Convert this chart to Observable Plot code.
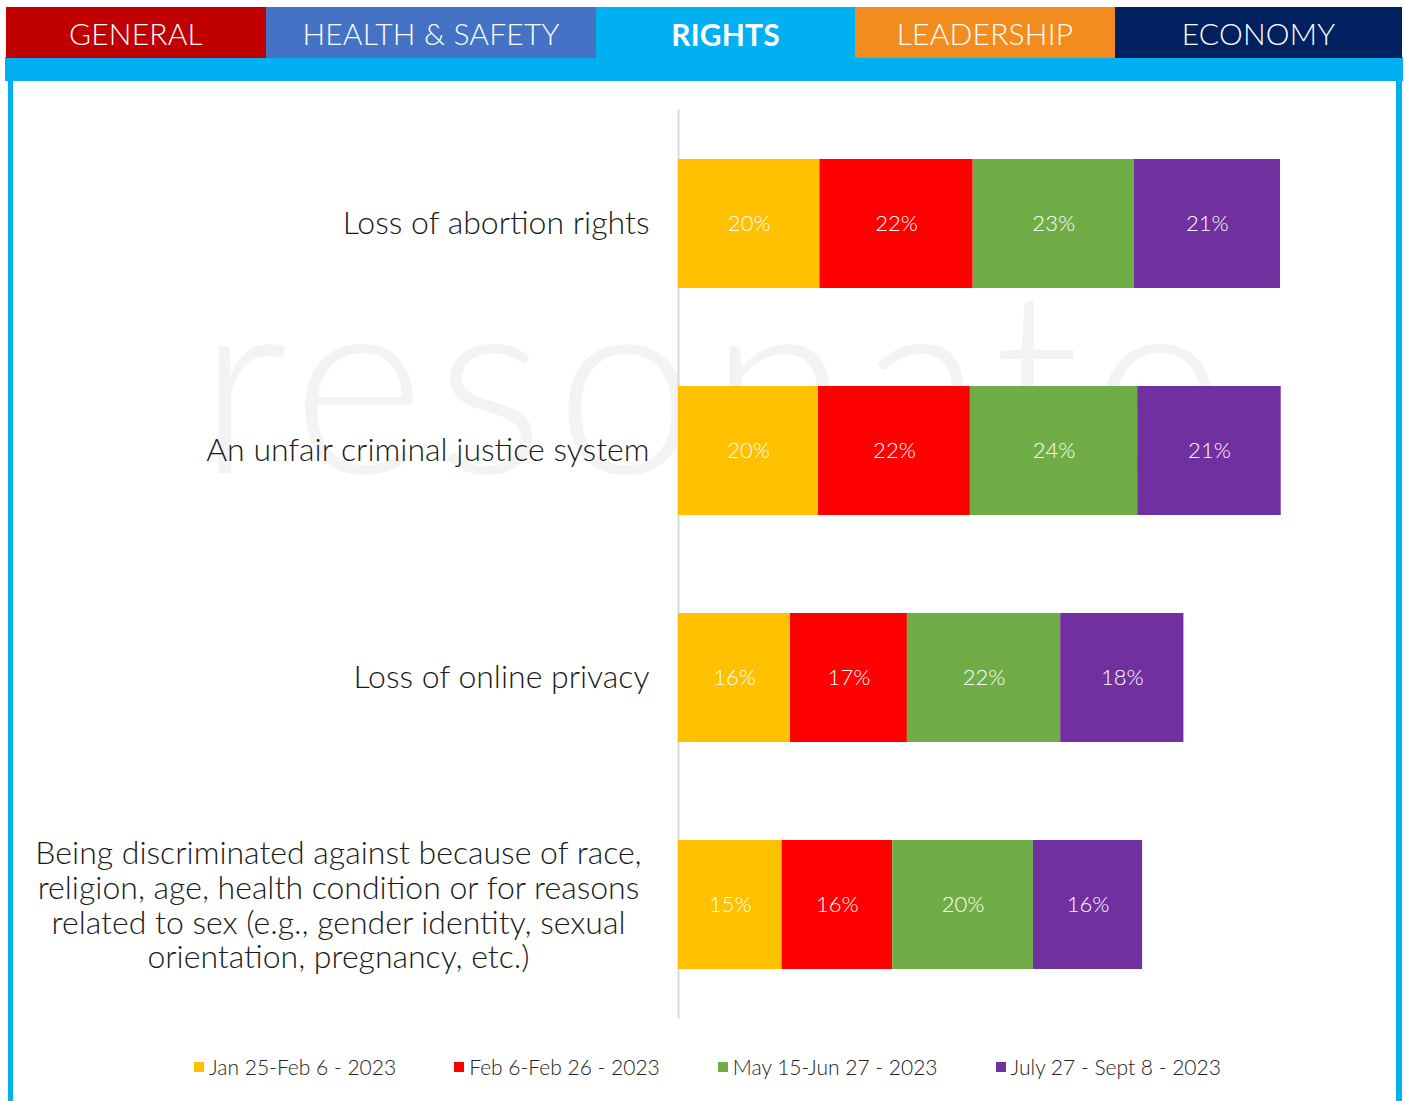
<!DOCTYPE html>
<html>
<head>
<meta charset="utf-8">
<script src="https://cdn.jsdelivr.net/npm/d3@7"></script>
<script src="https://cdn.jsdelivr.net/npm/@observablehq/plot@0.6"></script>
<style>
  body { margin: 0; background: #fff; }
  #page { position: relative; width: 1405px; height: 1101px; overflow: hidden; font-family: Lato, "Open Sans", sans-serif; }
  .tab { position: absolute; top: 7px; height: 51px; color: #fff; font-size: 30px; font-weight: 300; display: flex; align-items: center; justify-content: center; letter-spacing: 0.2px; }
  .tab.active { font-weight: 700; align-items: flex-start; }
  #band { position: absolute; left: 5px; top: 57px; width: 1398px; height: 24px; background: #00B0F0; }
  #lb { position: absolute; left: 8px; top: 57px; width: 5px; height: 1044px; background: #00B0F0; }
  #rb { position: absolute; left: 1396px; top: 57px; width: 6px; height: 1044px; background: #00B0F0; }
  #wm { position: absolute; left: 198px; top: 247px; font-size: 255px; font-weight: 300; color: #f3f3f3; letter-spacing: 11px; line-height: 1; white-space: nowrap; }
  #chart { position: absolute; left: 13px; top: 80px; }
  #legend { position: absolute; top: 1054px; left: 0; width: 1405px; display: flex; justify-content: center; gap: 58px; font-size: 21px; font-weight: 300; color: #222; padding-left: 10px; box-sizing: border-box; }
  .li { display: flex; align-items: center; }
  .sw { width: 10px; height: 10px; margin-right: 5px; }
</style>
</head>
<body>
<div id="page">
  <div id="band"></div>
  <div id="lb"></div>
  <div id="rb"></div>
  <div id="tabs"></div>
  <div id="wm">resonate</div>
  <div id="chart"></div>
  <div id="legend"></div>
</div>
<script>
const tabNames = ["GENERAL", "HEALTH & SAFETY", "RIGHTS", "LEADERSHIP", "ECONOMY"];
const tabColors = ["#C00000", "#4472C4", "#00B0F0", "#F28C1E", "#002060"];
const tabEdges = [6, 266, 596, 855, 1115, 1402];
const activeTab = "RIGHTS";

const categories = [
  "Loss of abortion rights",
  "An unfair criminal justice system",
  "Loss of online privacy",
  "Being discriminated against because of race,\nreligion, age, health condition or for reasons\nrelated to sex (e.g., gender identity, sexual\norientation, pregnancy, etc.)"
];
const series = ["Jan 25-Feb 6 - 2023", "Feb 6-Feb 26 - 2023", "May 15-Jun 27 - 2023", "July 27 - Sept 8 - 2023"];
const colors = ["#FFC000", "#FF0000", "#70AD47", "#7030A0"];
// percentages per series, in category order
const janFeb = [20.2, 20.0, 16.0, 14.8];
const febFeb = [21.9, 21.7, 16.7, 15.8];
const mayJun = [23.0, 23.9, 21.9, 20.1];
const julSep = [20.9, 20.5, 17.6, 15.6];
const seriesValues = [janFeb, febFeb, mayJun, julSep];

// tabs
const tabsDiv = document.getElementById("tabs");
tabNames.forEach((name, i) => {
  const d = document.createElement("div");
  d.className = "tab" + (name === activeTab ? " active" : "");
  d.style.left = tabEdges[i] + "px";
  d.style.width = (tabEdges[i + 1] - tabEdges[i]) + "px";
  d.style.background = tabColors[i];
  if (name === activeTab) { d.style.paddingTop = "9px"; d.style.height = "64px"; }
  d.textContent = name;
  tabsDiv.appendChild(d);
});

const data = [];
categories.forEach((c, ci) => {
  series.forEach((s, si) => {
    data.push({category: c, series: s, value: seriesValues[si][ci]});
  });
});

const labelData = categories.map((c) => ({category: c, multi: c.includes("\n")}));

const chart = Plot.plot({
  width: 1383,
  height: 960,
  marginLeft: 665,
  marginRight: 18,
  marginTop: 30,
  marginBottom: 22,
  style: {fontFamily: "Lato, 'Open Sans', sans-serif", background: "transparent"},
  x: {domain: [0, 100], axis: null},
  y: {domain: categories, axis: null, paddingInner: 0.43, paddingOuter: 0.215},
  color: {domain: series, range: colors},
  marks: [
    Plot.ruleX([0], {stroke: "#d9d9d9", strokeWidth: 2}),
    Plot.barX(data, {x: "value", y: "category", fill: "series", order: null}),
    Plot.text(data, Plot.stackX({
      x: "value", y: "category", z: "series", order: null,
      text: d => Math.round(d.value) + "%",
      fill: "#fff", fontSize: 22, fontWeight: 300
    })),
    Plot.text(labelData.filter(d => !d.multi), {
      x: () => 0, y: "category", text: "category",
      textAnchor: "end", dx: -29, fontSize: 32, fontWeight: 300, fill: "#1a1a1a"
    }),
    Plot.text(labelData.filter(d => d.multi), {
      x: () => 0, y: "category", text: "category",
      textAnchor: "middle", dx: -340, dy: 0, lineHeight: 1.09, fontSize: 32, fontWeight: 300, fill: "#1a1a1a"
    })
  ]
});
document.getElementById("chart").appendChild(chart);

const legend = document.getElementById("legend");
series.forEach((s, i) => {
  const li = document.createElement("div");
  li.className = "li";
  const sw = document.createElement("span");
  sw.className = "sw";
  sw.style.background = colors[i];
  li.appendChild(sw);
  const t = document.createElement("span");
  t.textContent = s;
  li.appendChild(t);
  legend.appendChild(li);
});
</script>
</body>
</html>
